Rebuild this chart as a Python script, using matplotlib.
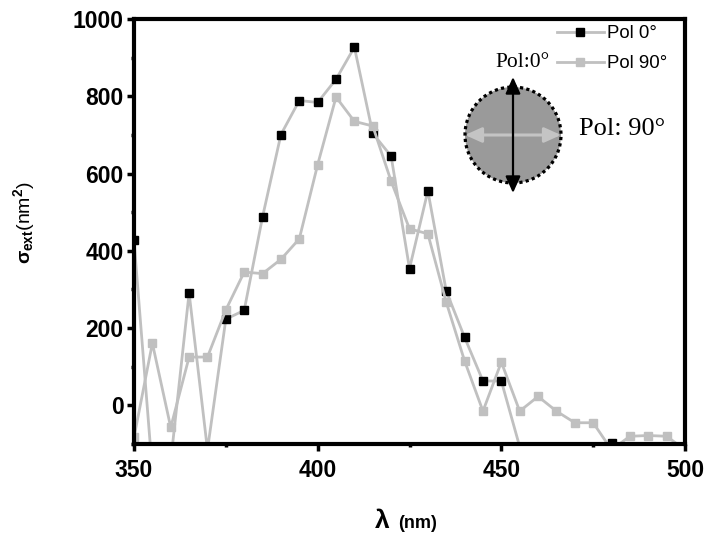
import numpy as np
import matplotlib
matplotlib.use("Agg")
import matplotlib.pyplot as plt
from matplotlib.patches import Circle, FancyArrowPatch
from matplotlib.ticker import MultipleLocator

# ---------------- data ----------------
wavelength = [350, 355, 360, 365, 370, 375, 380, 385, 390, 395, 400, 405, 410, 415, 420,
              425, 430, 435, 440, 445, 450, 455, 460, 465, 470, 475, 480, 485, 490, 495, 500]
pol0 = [427, -170, -145, 291, -115, 223, 246, 488, 701, 789, 784, 844, 927, 704, 645,
        354, 555, 296, 176, 63, 63, -107, -200, -200, -200, -180, -97, -160, -200, -200, -200]
pol90 = [-83, 161, -57, 125, 125, 247, 345, 341, 378, 431, 623, 798, 735, 723, 580,
         457, 444, 267, 115, -15, 112, -15, 23, -15, -45, -45, -115, -80, -78, -80, -115]
series_labels = ["Pol 0°", "Pol 90°"]
x_ticks = [350, 400, 450, 500]
y_ticks = [0, 200, 400, 600, 800, 1000]

plt.rcParams["font.family"] = ["Liberation Sans", "DejaVu Sans"]
plt.rcParams["mathtext.fontset"] = "custom"
plt.rcParams["mathtext.rm"] = "Liberation Sans:bold"
plt.rcParams["mathtext.it"] = "Liberation Sans:bold"
plt.rcParams["mathtext.bf"] = "Liberation Sans:bold"

W, H = 705, 538
fig = plt.figure(figsize=(W / 100, H / 100), dpi=100)
L, R, T, B = 134, 685, 19, 444
ax = fig.add_axes([L / W, 1 - B / H, (R - L) / W, (B - T) / H])

grey = "#c0c0c0"
ax.plot(wavelength, pol0, color=grey, lw=2.0, marker="s", ms=6.3,
        mfc="black", mec="black", label=series_labels[0])
ax.plot(wavelength, pol90, color=grey, lw=2.0, marker="s", ms=6.3,
        mfc=grey, mec=grey, label=series_labels[1])

ax.set_xlim(350, 500)
ax.set_ylim(-100, 1000)
ax.set_xticks(x_ticks)
ax.set_yticks(y_ticks)
ax.xaxis.set_minor_locator(MultipleLocator(25))
ax.yaxis.set_minor_locator(MultipleLocator(100))
for s in ax.spines.values():
    s.set_linewidth(3)
ax.tick_params(which="major", direction="out", length=5, width=2.5, labelsize=16.5, pad=2.5)
ax.tick_params(axis="x", which="major", pad=6)
ax.tick_params(which="minor", direction="out", length=2.5, width=2.5)
for lab in ax.get_xticklabels() + ax.get_yticklabels():
    lab.set_fontweight("bold")

# axis labels
ax.set_ylabel(r"$\sigma_{ext}$(nm$^2$)", fontsize=14)
ax.yaxis.set_label_coords(-0.176, 0.52)
ax.text(0.450, -0.198, "λ", transform=ax.transAxes, ha="center", va="baseline",
        fontsize=19, fontweight="bold")
ax.text(0.480, -0.198, "(nm)", transform=ax.transAxes, ha="left", va="baseline",
        fontsize=13, fontweight="bold")

# legend
leg = ax.legend(loc="upper right", bbox_to_anchor=(0.972, 0.99), frameon=False,
                fontsize=13.4, handlelength=2.5, handletextpad=0.2,
                labelspacing=0.7, borderpad=0.1, borderaxespad=0.0)

# inset illustration
cx, cy, size = 513, 135, 140
iax = fig.add_axes([(cx - size / 2) / W, 1 - (cy + size / 2) / H, size / W, size / H])
iax.set_xlim(-size / 2, size / 2)
iax.set_ylim(-size / 2, size / 2)
iax.set_aspect("equal")
iax.axis("off")
iax.add_patch(Circle((0, 0), 48, facecolor="#9a9a9a", edgecolor="black",
                     lw=2.3, linestyle=(0, (1, 1))))
iax.add_patch(FancyArrowPatch((-48, 0), (48, 0),
                              arrowstyle="<|-|>,head_length=1.0,head_width=0.45",
                              mutation_scale=10, lw=2.2, color="#c4c4c4",
                              shrinkA=0, shrinkB=0))
iax.add_patch(FancyArrowPatch((0, -58), (0, 58),
                              arrowstyle="<|-|>,head_length=1.0,head_width=0.45",
                              mutation_scale=10, lw=1.6, color="black",
                              shrinkA=0, shrinkB=0))
fig.text(523 / W, 1 - 67.3 / H, "Pol:0°", ha="center", va="baseline",
         fontsize=15.5, family=["Liberation Serif", "DejaVu Serif"])
fig.text(579 / W, 1 - 135 / H, "Pol: 90°", ha="left", va="baseline",
         fontsize=19, family=["Liberation Serif", "DejaVu Serif"])

fig.savefig("out.png", dpi=100)
